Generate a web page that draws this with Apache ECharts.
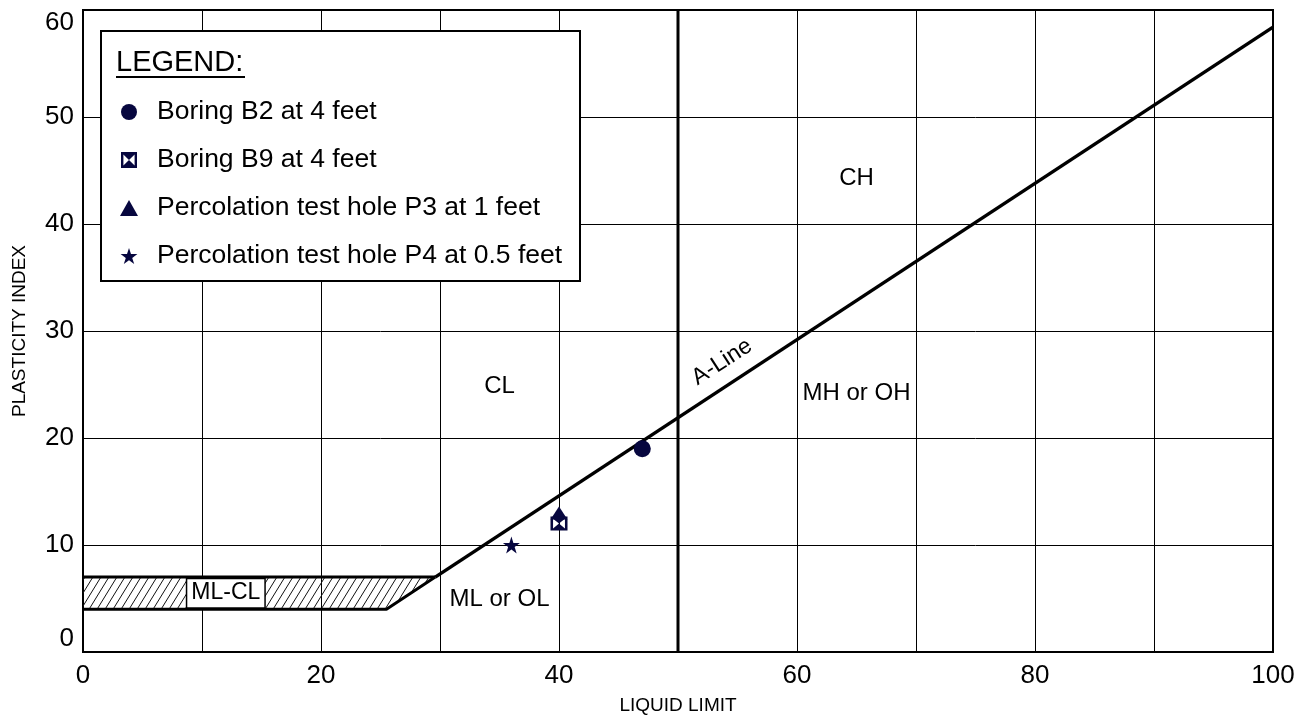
<!DOCTYPE html>
<html>
<head>
<meta charset="utf-8">
<script src="https://cdn.jsdelivr.net/npm/echarts@6/dist/echarts.min.js"></script>
<style>
  html, body { margin: 0; padding: 0; background: #fff; }
  #chart { width: 1309px; height: 721px; }
</style>
</head>
<body>
<div id="chart"></div>
<script>
// ---------- data ----------
const seriesNames = ['Boring B2 at 4 feet', 'Boring B9 at 4 feet', 'Percolation test hole P3 at 1 feet', 'Percolation test hole P4 at 0.5 feet'];
const boringB2 = [[47, 19]];
const boringB9 = [[40, 12]];
const percP3 = [[40, 13]];
const percP4 = [[36, 10]];

const aLine = [[29.6, 7], [100, 58.4]];
const llFifty = [[50, 0], [50, 60]];
const mlclTop = [[0, 7], [29.6, 7]];
const mlclBottom = [[0, 4], [25.5, 4], [29.6, 7]];
const hatchZone = [[0, 4], [25.5, 4], [29.6, 7], [0, 7]];

const zoneLabels = [[35, 24.8, 'CL'], [65, 44.3, 'CH'], [65, 24.2, 'MH or OH'], [35, 4.9, 'ML or OL']];
const mlclLabel = [[12, 5.5, 'ML-CL']];
const aLineLabel = [[53.7, 27.1, 'A-Line']];

const xTickLabels = [0, 20, 40, 60, 80, 100];
const yTickLabels = [0, 10, 20, 30, 40, 50, 60];

// ---------- styling ----------
const FONT = "'Liberation Sans', Arial, sans-serif";
const NAVY = '#07073f';
const starPath = 'path://M50,0 L61.23,34.55 L97.55,34.55 L68.17,55.9 L79.39,90.45 L50,69.1 L20.61,90.45 L31.83,55.9 L2.45,34.55 L38.77,34.55 Z';
const hourglassPath = 'path://M0,0L10,0L10,10L0,10Z M1.5,1.5L1.5,8.5L8.5,8.5L8.5,1.5Z M1.5,1.5L8.5,1.5L5,5Z M1.5,8.5L5,5L8.5,8.5Z';

// hatch pattern
const hatch = document.createElement('canvas');
hatch.width = 8; hatch.height = 13;
(function () {
  const c = hatch.getContext('2d');
  c.strokeStyle = '#111';
  c.lineWidth = 1;
  c.beginPath();
  c.moveTo(-8, 13); c.lineTo(0, 0);
  c.moveTo(0, 13); c.lineTo(8, 0);
  c.moveTo(8, 13); c.lineTo(16, 0);
  c.stroke();
})();

const chart = echarts.init(document.getElementById('chart'), null, { renderer: 'canvas' });

function blackLine(name, data, w) {
  return {
    name: name, type: 'line', data: data, showSymbol: false, silent: true, z: 3,
    lineStyle: { color: '#000', width: w || 3 }, animation: false
  };
}
function textSeries(name, data, extra) {
  return {
    name: name, type: 'scatter', data: data, symbolSize: 0.1, silent: true, z: 6,
    itemStyle: { color: 'transparent', opacity: 1 },
    label: Object.assign({
      show: true, position: 'inside', color: '#000', opacity: 1, fontSize: 24, fontFamily: FONT,
      formatter: p => p.data[2]
    }, extra || {})
  };
}
function pointSeries(name, data, symbol, size, z) {
  return {
    name: name, type: 'scatter', data: data, symbol: symbol, symbolSize: size, z: z || 8,
    itemStyle: { color: NAVY, opacity: 1 }, silent: true
  };
}

const option = {
  animation: false,
  grid: { left: 83, right: 36, top: 10, bottom: 69, show: true, borderColor: '#000', borderWidth: 2, backgroundColor: 'transparent' },
  xAxis: {
    type: 'value', min: 0, max: 100, interval: 10,
    name: 'LIQUID LIMIT', nameLocation: 'middle', nameGap: 44,
    nameTextStyle: { fontSize: 19, color: '#000', fontFamily: FONT },
    axisLine: { show: true, lineStyle: { color: '#000', width: 2 } },
    axisTick: { show: false },
    splitLine: { show: true, lineStyle: { color: '#000', width: 1 } },
    axisLabel: {
      fontSize: 26, color: '#000', fontFamily: FONT, margin: 11,
      formatter: v => xTickLabels.indexOf(v) >= 0 ? String(v) : ''
    }
  },
  yAxis: {
    type: 'value', min: 0, max: 60, interval: 10,
    name: 'PLASTICITY INDEX', nameLocation: 'middle', nameGap: 54,
    nameTextStyle: { fontSize: 19, color: '#000', fontFamily: FONT },
    axisLine: { show: true, lineStyle: { color: '#000', width: 2 } },
    axisTick: { show: false },
    splitLine: { show: true, lineStyle: { color: '#000', width: 1 } },
    axisLabel: {
      fontSize: 26, color: '#000', fontFamily: FONT, margin: 9,
      verticalAlignMaxLabel: 'top', verticalAlignMinLabel: 'bottom',
      formatter: v => yTickLabels.indexOf(v) >= 0 ? String(v) : ''
    }
  },
  legend: {
    orient: 'vertical', left: 115, top: 92, itemWidth: 18, itemHeight: 16, itemGap: 18,
    selectedMode: false, z: 20, data: seriesNames,
    textStyle: { fontSize: 26.5, color: '#000', fontFamily: FONT, lineHeight: 30, padding: [0, 0, 0, 14] }
  },
  graphic: [
    { type: 'rect', z: 10, silent: true, shape: { x: 101, y: 31, width: 479, height: 250 },
      style: { fill: '#fff', stroke: '#000', lineWidth: 2 } },
    { type: 'text', z: 21, silent: true, x: 116, y: 63,
      style: { text: 'LEGEND:', fontSize: 29, fontFamily: FONT, fill: '#000', textVerticalAlign: 'middle', verticalAlign: 'middle' } },
    { type: 'line', z: 21, silent: true, shape: { x1: 116, y1: 77, x2: 245, y2: 77 },
      style: { stroke: '#000', lineWidth: 2 } }
  ],
  series: [
    {
      name: 'ML-CL zone', type: 'custom', silent: true, z: 2,
      data: [0],
      renderItem: function (params, api) {
        const pts = hatchZone.map(p => api.coord(p));
        return { type: 'polygon', shape: { points: pts }, style: { fill: { image: hatch, repeat: 'repeat' }, stroke: null } };
      }
    },
    blackLine('A-Line', aLine, 3.5),
    blackLine('LL 50', llFifty, 3),
    blackLine('ML-CL top', mlclTop, 3),
    blackLine('ML-CL bottom', mlclBottom, 3),
    textSeries('zones', zoneLabels),
    textSeries('mlcl', mlclLabel, { fontSize: 23, backgroundColor: '#fff', borderColor: '#000', borderWidth: 1.5, padding: [3, 4, 2, 4] }),
    textSeries('aline label', aLineLabel, { fontSize: 23, rotate: 33 }),
    pointSeries(seriesNames[0], boringB2, 'circle', 17, 8),
    pointSeries(seriesNames[2], percP3, 'triangle', [17, 13], 8),
    pointSeries(seriesNames[1], boringB9, hourglassPath, [17, 14], 9),
    pointSeries(seriesNames[3], percP4, starPath, 17, 8)
  ]
};
chart.setOption(option);
</script>
</body>
</html>
